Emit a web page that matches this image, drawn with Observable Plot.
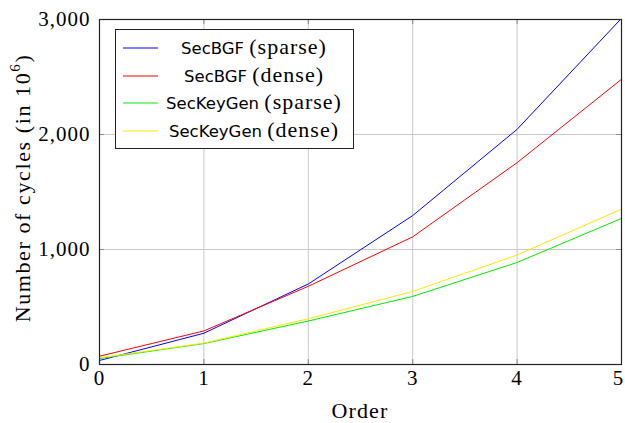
<!DOCTYPE html>
<html>
<head>
<meta charset="utf-8">
<script src="https://cdn.jsdelivr.net/npm/d3@7"></script>
<script src="https://cdn.jsdelivr.net/npm/@observablehq/plot@0.6"></script>
<style>
  html, body { margin: 0; padding: 0; background: #fff; }
  #chart { width: 625px; height: 423px; }
</style>
</head>
<body>
<div id="chart"></div>
<script>
const orders = [0, 1, 2, 3, 4, 5];
const seriesNames = ["SecBGF (sparse)", "SecBGF (dense)", "SecKeyGen (sparse)", "SecKeyGen (dense)"];
const bgfSparse = [35, 272, 700, 1295, 2045, 3010];
const bgfDense = [72, 292, 680, 1110, 1755, 2480];
const keyGenSparse = [52, 182, 378, 592, 887, 1270];
const keyGenDense = [58, 186, 398, 635, 952, 1350];
const colors = ["#0000ff", "#ff0000", "#00ee00", "#ffe600"];
const xTicks = [0, 1, 2, 3, 4, 5];
const yTicks = [0, 1000, 2000, 3000];

const allSeries = [bgfSparse, bgfDense, keyGenSparse, keyGenDense];
const rows = [];
allSeries.forEach((vals, i) => vals.forEach((v, j) => rows.push({series: seriesNames[i], order: orders[j], cycles: v})));

const serif = "'Liberation Serif', 'DejaVu Serif', serif";
const sans = "'DejaVu Sans', 'Liberation Sans', sans-serif";

const W = 625, H = 423, mL = 99, mR = 4, mT = 19, mB = 59;
const innerW = W - mL - mR, innerH = H - mT - mB;

const chart = Plot.plot({
  width: W, height: H,
  marginLeft: mL, marginRight: mR, marginTop: mT, marginBottom: mB,
  style: {fontFamily: serif, fontSize: "21px", background: "#fff", color: "#000", overflow: "visible"},
  x: {domain: [0, 5], ticks: xTicks},
  y: {domain: [0, 3000], ticks: yTicks},
  color: {domain: seriesNames, range: colors},
  marks: [
    Plot.gridX(xTicks, {stroke: "#c8c8c8", strokeOpacity: 1, strokeWidth: 1}),
    Plot.gridY(yTicks, {stroke: "#c8c8c8", strokeOpacity: 1, strokeWidth: 1}),
    Plot.ruleX(xTicks, {x: d => d, stroke: "#888", insetTop: innerH - 5}),
    Plot.ruleX(xTicks, {x: d => d, stroke: "#888", insetBottom: innerH - 5}),
    Plot.ruleY(yTicks, {y: d => d, stroke: "#888", insetRight: innerW - 5}),
    Plot.ruleY(yTicks, {y: d => d, stroke: "#888", insetLeft: innerW - 5}),
    Plot.line(rows, {x: "order", y: "cycles", z: "series", stroke: "series", strokeWidth: 1, clip: true}),
    Plot.frame({stroke: "#222", strokeWidth: 1.2}),
    Plot.axisX(xTicks, {tickSize: 0, tickPadding: 6, fontSize: 21, label: null}),
    Plot.axisY(yTicks, {tickSize: 0, tickPadding: 9, fontSize: 21, tickFormat: d3.format(","), label: null})
  ]
});

const svg = d3.select(chart);
// serif text slightly widened to approach the reference typeface proportions
svg.selectAll("g[aria-label='x-axis tick label'] text, g[aria-label='y-axis tick label'] text")
  .style("letter-spacing", "1px");
// keep the last x tick label inside the picture
const xLabels = svg.selectAll("g[aria-label='x-axis tick label'] text").nodes();
if (xLabels.length) d3.select(xLabels[xLabels.length - 1]).attr("dx", -3);

// axis titles
svg.append("text")
  .attr("x", mL + innerW / 2).attr("y", 413)
  .attr("text-anchor", "middle").attr("dominant-baseline", "middle")
  .style("font-family", serif).style("font-size", "22px").style("letter-spacing", "1.1px")
  .text("Order");
const yt = svg.append("text")
  .attr("transform", `translate(25,188) rotate(-90)`)
  .attr("text-anchor", "middle").attr("dominant-baseline", "middle")
  .style("font-family", serif).style("font-size", "22px").style("letter-spacing", "1.6px");
yt.append("tspan").text("Number of cycles (in 10");
yt.append("tspan").attr("dy", -8).style("font-size", "15px").text("6");
yt.append("tspan").attr("dy", 8).text(")");

// legend
const lg = svg.append("g");
lg.append("rect").attr("x", 115.5).attr("y", 29.5).attr("width", 238).attr("height", 119)
  .attr("fill", "#fff").attr("stroke", "#222").attr("stroke-width", 1);
seriesNames.forEach((name, i) => {
  const y = Math.round(48 + i * 27.5);
  lg.append("line").attr("x1", 123).attr("x2", 158).attr("y1", y).attr("y2", y)
    .attr("stroke", colors[i]).attr("stroke-width", 1.2);
  const m = name.match(/^(\S+) (.*)$/);
  const t = lg.append("text").attr("x", 254).attr("y", y + 1)
    .attr("text-anchor", "middle").attr("dominant-baseline", "middle");
  t.append("tspan").style("font-family", sans).style("font-size", "16.5px").text(m[1] + " ");
  t.append("tspan").style("font-family", serif).style("font-size", "22px").style("letter-spacing", "1px").text(m[2]);
});

document.getElementById("chart").appendChild(chart);
</script>
</body>
</html>
